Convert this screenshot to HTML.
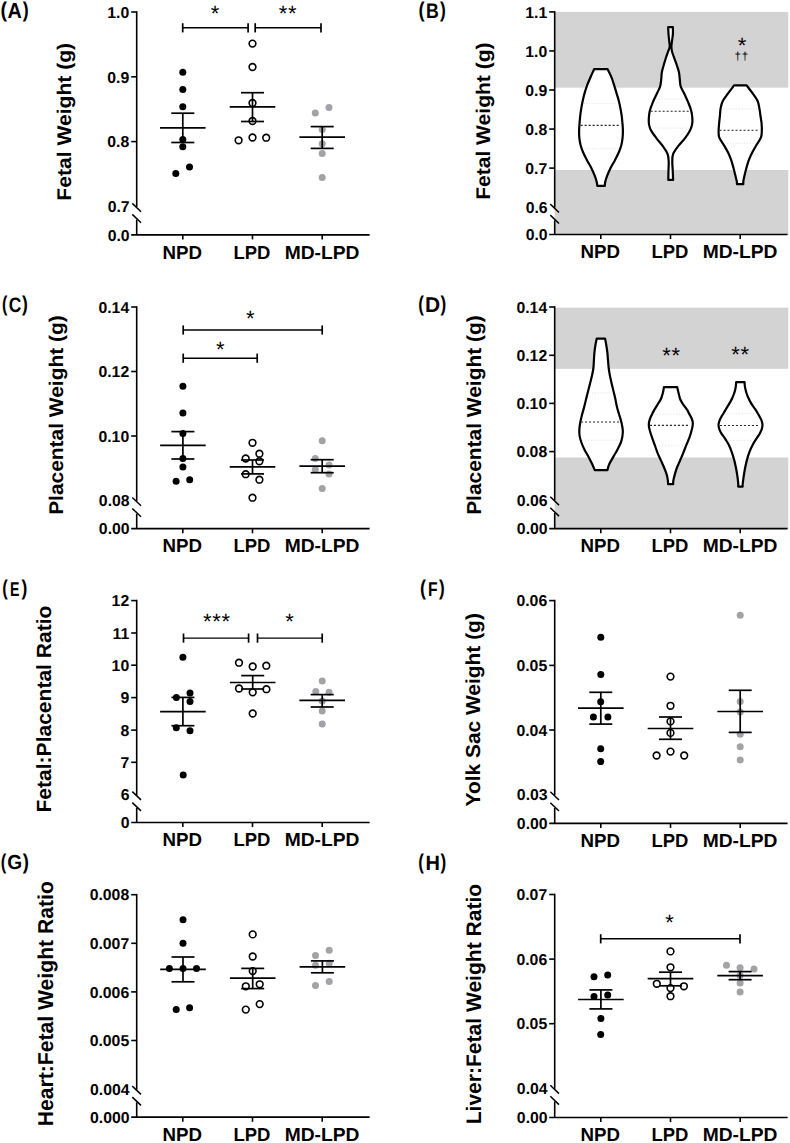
<!DOCTYPE html>
<html><head><meta charset="utf-8"><style>
html,body{margin:0;padding:0;background:#fff;}
svg{display:block;}
text{font-family:"Liberation Sans", sans-serif;fill:#000;}
</style></head><body>
<svg text-rendering="geometricPrecision" width="790" height="1143" viewBox="0 0 790 1143">
<rect width="790" height="1143" fill="#fff"/>
<rect x="554.70" y="11.90" width="233.60" height="75.80" fill="#d3d3d3"/>
<rect x="554.70" y="170.00" width="233.60" height="64.50" fill="#d3d3d3"/>
<rect x="554.70" y="307.70" width="233.60" height="61.10" fill="#d3d3d3"/>
<rect x="554.70" y="457.50" width="233.60" height="71.20" fill="#d3d3d3"/>
<line x1="136.70" y1="11.20" x2="136.70" y2="206.90" stroke="#000" stroke-width="1.6" />
<line x1="136.70" y1="219.60" x2="136.70" y2="234.80" stroke="#000" stroke-width="1.6" />
<line x1="132.30" y1="203.40" x2="141.00" y2="211.70" stroke="#000" stroke-width="1.5" />
<line x1="132.30" y1="214.40" x2="141.00" y2="222.70" stroke="#000" stroke-width="1.5" />
<line x1="131.20" y1="234.80" x2="369.60" y2="234.80" stroke="#000" stroke-width="1.7" />
<line x1="131.20" y1="12.00" x2="136.70" y2="12.00" stroke="#000" stroke-width="1.6" />
<line x1="131.20" y1="76.80" x2="136.70" y2="76.80" stroke="#000" stroke-width="1.6" />
<line x1="131.20" y1="141.60" x2="136.70" y2="141.60" stroke="#000" stroke-width="1.6" />
<text x="129.20" y="17.70" font-size="15.8" font-weight="bold" text-anchor="end" >1.0</text>
<text x="129.20" y="82.50" font-size="15.8" font-weight="bold" text-anchor="end" >0.9</text>
<text x="129.20" y="147.30" font-size="15.8" font-weight="bold" text-anchor="end" >0.8</text>
<line x1="182.80" y1="234.80" x2="182.80" y2="239.40" stroke="#000" stroke-width="1.6" />
<line x1="252.50" y1="234.80" x2="252.50" y2="239.40" stroke="#000" stroke-width="1.6" />
<line x1="322.20" y1="234.80" x2="322.20" y2="239.40" stroke="#000" stroke-width="1.6" />
<text x="129.60" y="212.10" font-size="15.8" font-weight="bold" text-anchor="end" >0.7</text>
<text x="129.60" y="240.50" font-size="15.8" font-weight="bold" text-anchor="end" >0.0</text>
<line x1="182.70" y1="27.80" x2="248.10" y2="27.80" stroke="#000" stroke-width="1.4" />
<line x1="182.70" y1="23.20" x2="182.70" y2="32.40" stroke="#000" stroke-width="1.7" />
<line x1="248.10" y1="23.20" x2="248.10" y2="32.40" stroke="#000" stroke-width="1.7" />
<line x1="255.20" y1="27.80" x2="321.00" y2="27.80" stroke="#000" stroke-width="1.4" />
<line x1="255.20" y1="23.20" x2="255.20" y2="32.40" stroke="#000" stroke-width="1.7" />
<line x1="321.00" y1="23.20" x2="321.00" y2="32.40" stroke="#000" stroke-width="1.7" />
<text x="215.45" y="21.44" font-size="22" font-weight="normal" text-anchor="middle" letter-spacing="0.7">*</text>
<text x="287.95" y="21.44" font-size="22" font-weight="normal" text-anchor="middle" letter-spacing="0.7">**</text>
<circle cx="182.80" cy="72.20" r="3.5" fill="#000"/>
<circle cx="182.80" cy="89.60" r="3.5" fill="#000"/>
<circle cx="182.80" cy="106.80" r="3.5" fill="#000"/>
<circle cx="182.80" cy="139.50" r="3.5" fill="#000"/>
<circle cx="182.80" cy="146.80" r="3.5" fill="#000"/>
<circle cx="175.80" cy="173.40" r="3.5" fill="#000"/>
<circle cx="189.50" cy="167.10" r="3.5" fill="#000"/>
<circle cx="252.50" cy="43.60" r="3.35" fill="#fff" stroke="#000" stroke-width="1.6"/>
<circle cx="252.50" cy="67.00" r="3.35" fill="#fff" stroke="#000" stroke-width="1.6"/>
<circle cx="252.50" cy="103.00" r="3.35" fill="#fff" stroke="#000" stroke-width="1.6"/>
<circle cx="252.50" cy="121.00" r="3.35" fill="#fff" stroke="#000" stroke-width="1.6"/>
<circle cx="238.60" cy="140.30" r="3.35" fill="#fff" stroke="#000" stroke-width="1.6"/>
<circle cx="252.50" cy="137.50" r="3.35" fill="#fff" stroke="#000" stroke-width="1.6"/>
<circle cx="266.20" cy="137.70" r="3.35" fill="#fff" stroke="#000" stroke-width="1.6"/>
<circle cx="315.30" cy="112.90" r="3.5" fill="#a2a2a7"/>
<circle cx="329.00" cy="107.60" r="3.5" fill="#a2a2a7"/>
<circle cx="322.20" cy="129.60" r="3.5" fill="#a2a2a7"/>
<circle cx="322.20" cy="143.80" r="3.5" fill="#a2a2a7"/>
<circle cx="322.20" cy="153.40" r="3.5" fill="#a2a2a7"/>
<circle cx="322.20" cy="177.50" r="3.5" fill="#a2a2a7"/>
<line x1="160.00" y1="127.80" x2="205.60" y2="127.80" stroke="#000" stroke-width="1.7" />
<line x1="171.30" y1="113.20" x2="194.30" y2="113.20" stroke="#000" stroke-width="1.7" />
<line x1="171.30" y1="142.50" x2="194.30" y2="142.50" stroke="#000" stroke-width="1.7" />
<line x1="182.80" y1="113.20" x2="182.80" y2="142.50" stroke="#000" stroke-width="1.7" />
<line x1="229.70" y1="106.80" x2="275.30" y2="106.80" stroke="#000" stroke-width="1.7" />
<line x1="241.00" y1="92.70" x2="264.00" y2="92.70" stroke="#000" stroke-width="1.7" />
<line x1="241.00" y1="121.50" x2="264.00" y2="121.50" stroke="#000" stroke-width="1.7" />
<line x1="252.50" y1="92.70" x2="252.50" y2="121.50" stroke="#000" stroke-width="1.7" />
<line x1="299.40" y1="137.20" x2="345.00" y2="137.20" stroke="#000" stroke-width="1.7" />
<line x1="310.70" y1="126.60" x2="333.70" y2="126.60" stroke="#000" stroke-width="1.7" />
<line x1="310.70" y1="148.40" x2="333.70" y2="148.40" stroke="#000" stroke-width="1.7" />
<line x1="322.20" y1="126.60" x2="322.20" y2="148.40" stroke="#000" stroke-width="1.7" />
<line x1="554.70" y1="11.10" x2="554.70" y2="207.65" stroke="#000" stroke-width="1.6" />
<line x1="554.70" y1="220.35" x2="554.70" y2="234.50" stroke="#000" stroke-width="1.6" />
<line x1="550.30" y1="204.15" x2="559.00" y2="212.45" stroke="#000" stroke-width="1.5" />
<line x1="550.30" y1="215.15" x2="559.00" y2="223.45" stroke="#000" stroke-width="1.5" />
<line x1="549.20" y1="234.50" x2="787.60" y2="234.50" stroke="#000" stroke-width="1.7" />
<line x1="549.20" y1="11.90" x2="554.70" y2="11.90" stroke="#000" stroke-width="1.6" />
<line x1="549.20" y1="50.95" x2="554.70" y2="50.95" stroke="#000" stroke-width="1.6" />
<line x1="549.20" y1="90.00" x2="554.70" y2="90.00" stroke="#000" stroke-width="1.6" />
<line x1="549.20" y1="129.05" x2="554.70" y2="129.05" stroke="#000" stroke-width="1.6" />
<line x1="549.20" y1="168.10" x2="554.70" y2="168.10" stroke="#000" stroke-width="1.6" />
<text x="547.20" y="17.60" font-size="15.8" font-weight="bold" text-anchor="end" >1.1</text>
<text x="547.20" y="56.65" font-size="15.8" font-weight="bold" text-anchor="end" >1.0</text>
<text x="547.20" y="95.70" font-size="15.8" font-weight="bold" text-anchor="end" >0.9</text>
<text x="547.20" y="134.75" font-size="15.8" font-weight="bold" text-anchor="end" >0.8</text>
<text x="547.20" y="173.80" font-size="15.8" font-weight="bold" text-anchor="end" >0.7</text>
<line x1="600.80" y1="234.50" x2="600.80" y2="239.10" stroke="#000" stroke-width="1.6" />
<line x1="670.50" y1="234.50" x2="670.50" y2="239.10" stroke="#000" stroke-width="1.6" />
<line x1="740.20" y1="234.50" x2="740.20" y2="239.10" stroke="#000" stroke-width="1.6" />
<text x="547.60" y="212.85" font-size="15.8" font-weight="bold" text-anchor="end" >0.6</text>
<text x="547.60" y="240.20" font-size="15.8" font-weight="bold" text-anchor="end" >0.0</text>
<path d="M594.10,69.20 C593.50,70.53 591.63,74.60 590.50,77.20 C589.37,79.80 588.25,82.27 587.30,84.80 C586.35,87.33 585.53,89.87 584.80,92.40 C584.07,94.93 583.47,97.47 582.90,100.00 C582.33,102.53 581.83,105.07 581.40,107.60 C580.97,110.13 580.60,112.68 580.30,115.20 C580.00,117.72 579.80,120.18 579.60,122.70 C579.40,125.22 579.15,127.82 579.10,130.30 C579.05,132.78 579.05,135.12 579.30,137.60 C579.55,140.08 579.93,142.67 580.60,145.20 C581.27,147.73 582.22,150.27 583.30,152.80 C584.38,155.33 585.77,157.87 587.10,160.40 C588.43,162.93 590.03,165.47 591.30,168.00 C592.57,170.53 593.82,173.33 594.70,175.60 C595.58,177.87 596.17,179.90 596.60,181.60 C597.03,183.30 597.18,185.10 597.30,185.80 L604.80,185.80 C604.88,185.10 604.90,183.30 605.30,181.60 C605.70,179.90 606.32,177.87 607.20,175.60 C608.08,173.33 609.33,170.53 610.60,168.00 C611.87,165.47 613.47,162.93 614.80,160.40 C616.13,157.87 617.52,155.33 618.60,152.80 C619.68,150.27 620.63,147.73 621.30,145.20 C621.97,142.67 622.33,140.08 622.60,137.60 C622.87,135.12 622.93,132.78 622.90,130.30 C622.87,127.82 622.62,125.22 622.40,122.70 C622.18,120.18 621.95,117.72 621.60,115.20 C621.25,112.68 620.80,110.13 620.30,107.60 C619.80,105.07 619.27,102.53 618.60,100.00 C617.93,97.47 617.07,94.93 616.30,92.40 C615.53,89.87 614.82,87.33 614.00,84.80 C613.18,82.27 612.47,79.80 611.40,77.20 C610.33,74.60 608.23,70.53 607.60,69.20Z" fill="#fff" stroke="#000" stroke-width="2.2" stroke-linejoin="round"/>
<line x1="580.60" y1="125.40" x2="620.10" y2="125.40" stroke="#2a2a2a" stroke-width="1.1" stroke-dasharray="2.1 1.9"/>
<line x1="583.83" y1="103.40" x2="617.76" y2="103.40" stroke="#e4e4e4" stroke-width="1.0" stroke-dasharray="1.2 1.6"/>
<line x1="583.41" y1="148.60" x2="618.49" y2="148.60" stroke="#e4e4e4" stroke-width="1.0" stroke-dasharray="1.2 1.6"/>
<path d="M668.20,27.20 C668.25,28.33 668.33,31.70 668.50,34.00 C668.67,36.30 669.00,38.90 669.20,41.00 C669.40,43.10 669.88,44.85 669.70,46.60 C669.52,48.35 668.77,49.52 668.10,51.50 C667.43,53.48 666.45,56.17 665.70,58.50 C664.95,60.83 664.25,63.17 663.60,65.50 C662.95,67.83 662.20,70.17 661.80,72.50 C661.40,74.83 661.48,77.17 661.20,79.50 C660.92,81.83 660.82,84.17 660.10,86.50 C659.38,88.83 658.15,90.77 656.90,93.50 C655.65,96.23 653.78,100.03 652.60,102.90 C651.42,105.77 650.43,108.08 649.80,110.70 C649.17,113.32 648.92,116.23 648.80,118.60 C648.68,120.97 648.73,122.93 649.10,124.90 C649.47,126.87 649.77,128.17 651.00,130.40 C652.23,132.63 654.53,135.67 656.50,138.30 C658.47,140.93 660.95,143.57 662.80,146.20 C664.65,148.83 666.62,151.48 667.60,154.10 C668.58,156.72 668.55,159.28 668.70,161.90 C668.85,164.52 668.57,166.80 668.50,169.80 C668.43,172.80 668.33,178.22 668.30,179.90 L673.10,179.90 C673.03,178.22 672.83,172.80 672.70,169.80 C672.57,166.80 672.23,164.52 672.30,161.90 C672.37,159.28 672.12,156.72 673.10,154.10 C674.08,151.48 676.23,148.83 678.20,146.20 C680.17,143.57 682.93,140.93 684.90,138.30 C686.87,135.67 688.82,132.63 690.00,130.40 C691.18,128.17 691.60,126.87 692.00,124.90 C692.40,122.93 692.53,120.97 692.40,118.60 C692.27,116.23 691.87,113.32 691.20,110.70 C690.53,108.08 689.57,105.77 688.40,102.90 C687.23,100.03 685.48,96.23 684.20,93.50 C682.92,90.77 681.43,88.83 680.70,86.50 C679.97,84.17 680.08,81.83 679.80,79.50 C679.52,77.17 679.48,74.83 679.00,72.50 C678.52,70.17 677.67,67.83 676.90,65.50 C676.13,63.17 675.22,60.83 674.40,58.50 C673.58,56.17 672.50,53.48 672.00,51.50 C671.50,49.52 671.40,48.35 671.40,46.60 C671.40,44.85 671.75,43.10 672.00,41.00 C672.25,38.90 672.75,36.30 672.90,34.00 C673.05,31.70 672.90,28.33 672.90,27.20Z" fill="#fff" stroke="#000" stroke-width="2.2" stroke-linejoin="round"/>
<line x1="650.60" y1="111.30" x2="690.40" y2="111.30" stroke="#2a2a2a" stroke-width="1.1" stroke-dasharray="2.1 1.9"/>
<line x1="656.03" y1="98.90" x2="685.01" y2="98.90" stroke="#e4e4e4" stroke-width="1.0" stroke-dasharray="1.2 1.6"/>
<line x1="651.81" y1="128.10" x2="689.24" y2="128.10" stroke="#e4e4e4" stroke-width="1.0" stroke-dasharray="1.2 1.6"/>
<path d="M734.10,85.40 C733.12,86.70 730.07,90.63 728.20,93.20 C726.33,95.77 724.17,98.27 722.90,100.80 C721.63,103.33 721.10,105.87 720.60,108.40 C720.10,110.93 720.15,113.47 719.90,116.00 C719.65,118.53 719.32,121.07 719.10,123.60 C718.88,126.13 718.57,128.87 718.60,131.20 C718.63,133.53 718.40,135.27 719.30,137.60 C720.20,139.93 722.52,142.67 724.00,145.20 C725.48,147.73 726.98,150.27 728.20,152.80 C729.42,155.33 730.42,157.87 731.30,160.40 C732.18,162.93 732.82,165.47 733.50,168.00 C734.18,170.53 734.87,173.45 735.40,175.60 C735.93,177.75 736.43,179.48 736.70,180.90 C736.97,182.32 736.95,183.57 737.00,184.10 L743.30,184.10 C743.32,183.57 743.20,182.32 743.40,180.90 C743.60,179.48 744.00,177.75 744.50,175.60 C745.00,173.45 745.70,170.53 746.40,168.00 C747.10,165.47 747.75,162.93 748.70,160.40 C749.65,157.87 750.83,155.33 752.10,152.80 C753.37,150.27 754.83,147.73 756.30,145.20 C757.77,142.67 759.98,139.93 760.90,137.60 C761.82,135.27 761.68,133.53 761.80,131.20 C761.92,128.87 761.82,126.13 761.60,123.60 C761.38,121.07 760.87,118.53 760.50,116.00 C760.13,113.47 759.90,110.93 759.40,108.40 C758.90,105.87 758.65,103.33 757.50,100.80 C756.35,98.27 754.32,95.77 752.50,93.20 C750.68,90.63 747.58,86.70 746.60,85.40Z" fill="#fff" stroke="#000" stroke-width="2.2" stroke-linejoin="round"/>
<line x1="719.50" y1="130.20" x2="759.40" y2="130.20" stroke="#2a2a2a" stroke-width="1.1" stroke-dasharray="2.1 1.9"/>
<line x1="722.14" y1="109.10" x2="757.90" y2="109.10" stroke="#e4e4e4" stroke-width="1.0" stroke-dasharray="1.2 1.6"/>
<line x1="724.43" y1="143.30" x2="755.85" y2="143.30" stroke="#e4e4e4" stroke-width="1.0" stroke-dasharray="1.2 1.6"/>
<text x="742.45" y="52.64" font-size="22" font-weight="normal" text-anchor="middle" letter-spacing="0.7">*</text>
<text x="741.7" y="59.6" font-size="11.5" text-anchor="middle" letter-spacing="0.8">††</text>
<line x1="136.70" y1="306.20" x2="136.70" y2="501.00" stroke="#000" stroke-width="1.6" />
<line x1="136.70" y1="513.70" x2="136.70" y2="528.70" stroke="#000" stroke-width="1.6" />
<line x1="132.30" y1="497.50" x2="141.00" y2="505.80" stroke="#000" stroke-width="1.5" />
<line x1="132.30" y1="508.50" x2="141.00" y2="516.80" stroke="#000" stroke-width="1.5" />
<line x1="131.20" y1="528.70" x2="369.60" y2="528.70" stroke="#000" stroke-width="1.7" />
<line x1="131.20" y1="307.00" x2="136.70" y2="307.00" stroke="#000" stroke-width="1.6" />
<line x1="131.20" y1="371.50" x2="136.70" y2="371.50" stroke="#000" stroke-width="1.6" />
<line x1="131.20" y1="436.00" x2="136.70" y2="436.00" stroke="#000" stroke-width="1.6" />
<text x="129.20" y="312.70" font-size="15.8" font-weight="bold" text-anchor="end" >0.14</text>
<text x="129.20" y="377.20" font-size="15.8" font-weight="bold" text-anchor="end" >0.12</text>
<text x="129.20" y="441.70" font-size="15.8" font-weight="bold" text-anchor="end" >0.10</text>
<line x1="182.80" y1="528.70" x2="182.80" y2="533.30" stroke="#000" stroke-width="1.6" />
<line x1="252.50" y1="528.70" x2="252.50" y2="533.30" stroke="#000" stroke-width="1.6" />
<line x1="322.20" y1="528.70" x2="322.20" y2="533.30" stroke="#000" stroke-width="1.6" />
<text x="129.60" y="506.20" font-size="15.8" font-weight="bold" text-anchor="end" >0.08</text>
<text x="129.60" y="534.40" font-size="15.8" font-weight="bold" text-anchor="end" >0.00</text>
<line x1="183.20" y1="330.00" x2="322.20" y2="330.00" stroke="#000" stroke-width="1.4" />
<line x1="183.20" y1="325.40" x2="183.20" y2="334.60" stroke="#000" stroke-width="1.7" />
<line x1="322.20" y1="325.40" x2="322.20" y2="334.60" stroke="#000" stroke-width="1.7" />
<line x1="183.20" y1="358.20" x2="257.20" y2="358.20" stroke="#000" stroke-width="1.4" />
<line x1="183.20" y1="353.60" x2="183.20" y2="362.80" stroke="#000" stroke-width="1.7" />
<line x1="257.20" y1="353.60" x2="257.20" y2="362.80" stroke="#000" stroke-width="1.7" />
<text x="250.65" y="326.34" font-size="22" font-weight="normal" text-anchor="middle" letter-spacing="0.7">*</text>
<text x="220.75" y="356.54" font-size="22" font-weight="normal" text-anchor="middle" letter-spacing="0.7">*</text>
<circle cx="182.90" cy="386.20" r="3.5" fill="#000"/>
<circle cx="182.90" cy="413.00" r="3.5" fill="#000"/>
<circle cx="182.90" cy="433.40" r="3.5" fill="#000"/>
<circle cx="182.90" cy="458.50" r="3.5" fill="#000"/>
<circle cx="182.90" cy="467.10" r="3.5" fill="#000"/>
<circle cx="176.10" cy="481.30" r="3.5" fill="#000"/>
<circle cx="189.70" cy="479.70" r="3.5" fill="#000"/>
<circle cx="252.50" cy="442.80" r="3.35" fill="#fff" stroke="#000" stroke-width="1.6"/>
<circle cx="245.70" cy="458.50" r="3.35" fill="#fff" stroke="#000" stroke-width="1.6"/>
<circle cx="259.40" cy="453.70" r="3.35" fill="#fff" stroke="#000" stroke-width="1.6"/>
<circle cx="259.40" cy="461.30" r="3.35" fill="#fff" stroke="#000" stroke-width="1.6"/>
<circle cx="245.70" cy="474.20" r="3.35" fill="#fff" stroke="#000" stroke-width="1.6"/>
<circle cx="259.40" cy="479.70" r="3.35" fill="#fff" stroke="#000" stroke-width="1.6"/>
<circle cx="252.50" cy="497.70" r="3.35" fill="#fff" stroke="#000" stroke-width="1.6"/>
<circle cx="322.20" cy="440.80" r="3.5" fill="#a2a2a7"/>
<circle cx="315.30" cy="458.50" r="3.5" fill="#a2a2a7"/>
<circle cx="329.00" cy="465.10" r="3.5" fill="#a2a2a7"/>
<circle cx="315.30" cy="469.40" r="3.5" fill="#a2a2a7"/>
<circle cx="329.00" cy="473.90" r="3.5" fill="#a2a2a7"/>
<circle cx="322.20" cy="488.40" r="3.5" fill="#a2a2a7"/>
<line x1="160.10" y1="445.30" x2="205.70" y2="445.30" stroke="#000" stroke-width="1.7" />
<line x1="171.40" y1="431.60" x2="194.40" y2="431.60" stroke="#000" stroke-width="1.7" />
<line x1="171.40" y1="459.00" x2="194.40" y2="459.00" stroke="#000" stroke-width="1.7" />
<line x1="182.90" y1="431.60" x2="182.90" y2="459.00" stroke="#000" stroke-width="1.7" />
<line x1="229.70" y1="466.80" x2="275.30" y2="466.80" stroke="#000" stroke-width="1.7" />
<line x1="241.00" y1="460.00" x2="264.00" y2="460.00" stroke="#000" stroke-width="1.7" />
<line x1="241.00" y1="473.90" x2="264.00" y2="473.90" stroke="#000" stroke-width="1.7" />
<line x1="252.50" y1="460.00" x2="252.50" y2="473.90" stroke="#000" stroke-width="1.7" />
<line x1="299.40" y1="466.10" x2="345.00" y2="466.10" stroke="#000" stroke-width="1.7" />
<line x1="310.70" y1="459.70" x2="333.70" y2="459.70" stroke="#000" stroke-width="1.7" />
<line x1="310.70" y1="472.70" x2="333.70" y2="472.70" stroke="#000" stroke-width="1.7" />
<line x1="322.20" y1="459.70" x2="322.20" y2="472.70" stroke="#000" stroke-width="1.7" />
<line x1="554.70" y1="306.20" x2="554.70" y2="500.30" stroke="#000" stroke-width="1.6" />
<line x1="554.70" y1="513.00" x2="554.70" y2="528.70" stroke="#000" stroke-width="1.6" />
<line x1="550.30" y1="496.80" x2="559.00" y2="505.10" stroke="#000" stroke-width="1.5" />
<line x1="550.30" y1="507.80" x2="559.00" y2="516.10" stroke="#000" stroke-width="1.5" />
<line x1="549.20" y1="528.70" x2="787.60" y2="528.70" stroke="#000" stroke-width="1.7" />
<line x1="549.20" y1="307.00" x2="554.70" y2="307.00" stroke="#000" stroke-width="1.6" />
<line x1="549.20" y1="355.30" x2="554.70" y2="355.30" stroke="#000" stroke-width="1.6" />
<line x1="549.20" y1="403.40" x2="554.70" y2="403.40" stroke="#000" stroke-width="1.6" />
<line x1="549.20" y1="451.60" x2="554.70" y2="451.60" stroke="#000" stroke-width="1.6" />
<text x="547.20" y="312.70" font-size="15.8" font-weight="bold" text-anchor="end" >0.14</text>
<text x="547.20" y="361.00" font-size="15.8" font-weight="bold" text-anchor="end" >0.12</text>
<text x="547.20" y="409.10" font-size="15.8" font-weight="bold" text-anchor="end" >0.10</text>
<text x="547.20" y="457.30" font-size="15.8" font-weight="bold" text-anchor="end" >0.08</text>
<line x1="600.80" y1="528.70" x2="600.80" y2="533.30" stroke="#000" stroke-width="1.6" />
<line x1="670.50" y1="528.70" x2="670.50" y2="533.30" stroke="#000" stroke-width="1.6" />
<line x1="740.20" y1="528.70" x2="740.20" y2="533.30" stroke="#000" stroke-width="1.6" />
<text x="547.60" y="505.50" font-size="15.8" font-weight="bold" text-anchor="end" >0.06</text>
<text x="547.60" y="534.40" font-size="15.8" font-weight="bold" text-anchor="end" >0.00</text>
<path d="M596.70,338.70 C596.48,339.78 595.78,342.85 595.40,345.20 C595.02,347.55 594.65,350.27 594.40,352.80 C594.15,355.33 594.07,357.87 593.90,360.40 C593.73,362.93 593.72,365.47 593.40,368.00 C593.08,370.53 592.55,373.07 592.00,375.60 C591.45,378.13 590.73,380.68 590.10,383.20 C589.47,385.72 588.83,388.18 588.20,390.70 C587.57,393.22 587.00,395.48 586.30,398.30 C585.60,401.12 584.73,404.78 584.00,407.60 C583.27,410.42 582.53,412.67 581.90,415.20 C581.27,417.73 580.63,420.27 580.20,422.80 C579.77,425.33 579.38,428.13 579.30,430.40 C579.22,432.67 579.35,434.38 579.70,436.40 C580.05,438.42 580.62,440.33 581.40,442.50 C582.18,444.67 583.20,447.00 584.40,449.40 C585.60,451.80 587.27,454.38 588.60,456.90 C589.93,459.42 591.38,462.28 592.40,464.50 C593.42,466.72 594.32,469.25 594.70,470.20 L607.40,470.20 C607.68,469.25 608.12,466.72 609.10,464.50 C610.08,462.28 611.90,459.42 613.30,456.90 C614.70,454.38 616.23,451.80 617.50,449.40 C618.77,447.00 620.08,444.67 620.90,442.50 C621.72,440.33 622.08,438.42 622.40,436.40 C622.72,434.38 622.95,432.67 622.80,430.40 C622.65,428.13 622.07,425.33 621.50,422.80 C620.93,420.27 620.13,417.73 619.40,415.20 C618.67,412.67 617.80,410.42 617.10,407.60 C616.40,404.78 615.82,401.12 615.20,398.30 C614.58,395.48 614.00,393.22 613.40,390.70 C612.80,388.18 612.18,385.72 611.60,383.20 C611.02,380.68 610.38,378.13 609.90,375.60 C609.42,373.07 609.02,370.53 608.70,368.00 C608.38,365.47 608.22,362.93 608.00,360.40 C607.78,357.87 607.68,355.33 607.40,352.80 C607.12,350.27 606.68,347.55 606.30,345.20 C605.92,342.85 605.30,339.78 605.10,338.70Z" fill="#fff" stroke="#000" stroke-width="2.2" stroke-linejoin="round"/>
<line x1="581.00" y1="422.00" x2="620.10" y2="422.00" stroke="#2a2a2a" stroke-width="1.1" stroke-dasharray="2.1 1.9"/>
<line x1="589.23" y1="393.00" x2="612.34" y2="393.00" stroke="#e4e4e4" stroke-width="1.0" stroke-dasharray="1.2 1.6"/>
<line x1="582.36" y1="440.20" x2="619.87" y2="440.20" stroke="#e4e4e4" stroke-width="1.0" stroke-dasharray="1.2 1.6"/>
<path d="M663.90,387.20 C663.78,387.90 663.48,390.07 663.20,391.40 C662.92,392.73 662.58,393.93 662.20,395.20 C661.82,396.47 661.50,397.73 660.90,399.00 C660.30,400.27 659.37,401.53 658.60,402.80 C657.83,404.07 657.07,405.33 656.30,406.60 C655.53,407.87 654.70,409.13 654.00,410.40 C653.30,411.67 652.72,412.93 652.10,414.20 C651.48,415.47 650.82,416.62 650.30,418.00 C649.78,419.38 649.22,420.98 649.00,422.50 C648.78,424.02 648.73,425.32 649.00,427.10 C649.27,428.88 650.08,431.45 650.60,433.20 C651.12,434.95 651.40,435.60 652.10,437.60 C652.80,439.60 653.90,442.67 654.80,445.20 C655.70,447.73 656.48,450.27 657.50,452.80 C658.52,455.33 659.77,457.87 660.90,460.40 C662.03,462.93 663.28,465.47 664.30,468.00 C665.32,470.53 666.40,473.45 667.00,475.60 C667.60,477.75 667.72,479.48 667.90,480.90 C668.08,482.32 668.07,483.57 668.10,484.10 L673.20,484.10 C673.22,483.57 673.08,482.32 673.30,480.90 C673.52,479.48 673.92,477.75 674.50,475.60 C675.08,473.45 675.87,470.53 676.80,468.00 C677.73,465.47 679.02,462.93 680.10,460.40 C681.18,457.87 682.27,455.33 683.30,452.80 C684.33,450.27 685.28,447.73 686.30,445.20 C687.32,442.67 688.65,439.60 689.40,437.60 C690.15,435.60 690.30,434.95 690.80,433.20 C691.30,431.45 692.07,428.88 692.40,427.10 C692.73,425.32 692.95,424.02 692.80,422.50 C692.65,420.98 692.07,419.38 691.50,418.00 C690.93,416.62 690.07,415.47 689.40,414.20 C688.73,412.93 688.27,411.67 687.50,410.40 C686.73,409.13 685.70,407.87 684.80,406.60 C683.90,405.33 682.88,404.07 682.10,402.80 C681.32,401.53 680.60,400.27 680.10,399.00 C679.60,397.73 679.42,396.47 679.10,395.20 C678.78,393.93 678.52,392.73 678.20,391.40 C677.88,390.07 677.37,387.90 677.20,387.20Z" fill="#fff" stroke="#000" stroke-width="2.2" stroke-linejoin="round"/>
<line x1="649.90" y1="425.40" x2="689.70" y2="425.40" stroke="#2a2a2a" stroke-width="1.1" stroke-dasharray="2.1 1.9"/>
<line x1="653.70" y1="414.20" x2="687.80" y2="414.20" stroke="#e4e4e4" stroke-width="1.0" stroke-dasharray="1.2 1.6"/>
<line x1="656.65" y1="445.90" x2="684.42" y2="445.90" stroke="#e4e4e4" stroke-width="1.0" stroke-dasharray="1.2 1.6"/>
<path d="M736.20,382.20 C736.13,382.90 735.98,385.07 735.80,386.40 C735.62,387.73 735.42,388.93 735.10,390.20 C734.78,391.47 734.35,392.73 733.90,394.00 C733.45,395.27 732.97,396.53 732.40,397.80 C731.83,399.07 731.20,400.33 730.50,401.60 C729.80,402.87 728.97,404.13 728.20,405.40 C727.43,406.67 726.65,407.93 725.90,409.20 C725.15,410.47 724.45,411.73 723.70,413.00 C722.95,414.27 722.10,415.53 721.40,416.80 C720.70,418.07 719.98,419.22 719.50,420.60 C719.02,421.98 718.50,423.58 718.50,425.10 C718.50,426.62 718.95,428.18 719.50,429.70 C720.05,431.22 720.98,432.88 721.80,434.20 C722.62,435.52 723.20,435.77 724.40,437.60 C725.60,439.43 727.73,442.67 729.00,445.20 C730.27,447.73 731.12,450.27 732.00,452.80 C732.88,455.33 733.63,457.87 734.30,460.40 C734.97,462.93 735.50,465.47 736.00,468.00 C736.50,470.53 736.93,473.07 737.30,475.60 C737.67,478.13 738.05,481.37 738.20,483.20 C738.35,485.03 738.20,486.03 738.20,486.60 L742.60,486.60 C742.63,486.03 742.60,485.03 742.80,483.20 C743.00,481.37 743.42,478.13 743.80,475.60 C744.18,473.07 744.60,470.53 745.10,468.00 C745.60,465.47 746.13,462.93 746.80,460.40 C747.47,457.87 748.15,455.33 749.10,452.80 C750.05,450.27 751.17,447.73 752.50,445.20 C753.83,442.67 755.95,439.43 757.10,437.60 C758.25,435.77 758.65,435.52 759.40,434.20 C760.15,432.88 761.08,431.22 761.60,429.70 C762.12,428.18 762.50,426.62 762.50,425.10 C762.50,423.58 762.07,421.98 761.60,420.60 C761.13,419.22 760.38,418.07 759.70,416.80 C759.02,415.53 758.25,414.27 757.50,413.00 C756.75,411.73 756.03,410.47 755.20,409.20 C754.37,407.93 753.33,406.67 752.50,405.40 C751.67,404.13 750.90,402.87 750.20,401.60 C749.50,400.33 748.87,399.07 748.30,397.80 C747.73,396.53 747.23,395.27 746.80,394.00 C746.37,392.73 746.02,391.47 745.70,390.20 C745.38,388.93 745.10,387.73 744.90,386.40 C744.70,385.07 744.57,382.90 744.50,382.20Z" fill="#fff" stroke="#000" stroke-width="2.2" stroke-linejoin="round"/>
<line x1="719.90" y1="425.50" x2="759.40" y2="425.50" stroke="#2a2a2a" stroke-width="1.1" stroke-dasharray="2.1 1.9"/>
<line x1="724.88" y1="413.70" x2="756.31" y2="413.70" stroke="#e4e4e4" stroke-width="1.0" stroke-dasharray="1.2 1.6"/>
<line x1="727.63" y1="440.30" x2="753.87" y2="440.30" stroke="#e4e4e4" stroke-width="1.0" stroke-dasharray="1.2 1.6"/>
<text x="671.45" y="362.64" font-size="22" font-weight="normal" text-anchor="middle" letter-spacing="0.7">**</text>
<text x="740.55" y="362.44" font-size="22" font-weight="normal" text-anchor="middle" letter-spacing="0.7">**</text>
<line x1="136.70" y1="599.80" x2="136.70" y2="795.10" stroke="#000" stroke-width="1.6" />
<line x1="136.70" y1="807.80" x2="136.70" y2="822.50" stroke="#000" stroke-width="1.6" />
<line x1="132.30" y1="791.60" x2="141.00" y2="799.90" stroke="#000" stroke-width="1.5" />
<line x1="132.30" y1="802.60" x2="141.00" y2="810.90" stroke="#000" stroke-width="1.5" />
<line x1="131.20" y1="822.50" x2="369.60" y2="822.50" stroke="#000" stroke-width="1.7" />
<line x1="131.20" y1="600.60" x2="136.70" y2="600.60" stroke="#000" stroke-width="1.6" />
<line x1="131.20" y1="633.00" x2="136.70" y2="633.00" stroke="#000" stroke-width="1.6" />
<line x1="131.20" y1="665.20" x2="136.70" y2="665.20" stroke="#000" stroke-width="1.6" />
<line x1="131.20" y1="697.60" x2="136.70" y2="697.60" stroke="#000" stroke-width="1.6" />
<line x1="131.20" y1="730.10" x2="136.70" y2="730.10" stroke="#000" stroke-width="1.6" />
<line x1="131.20" y1="762.30" x2="136.70" y2="762.30" stroke="#000" stroke-width="1.6" />
<text x="129.20" y="606.30" font-size="15.8" font-weight="bold" text-anchor="end" >12</text>
<text x="129.20" y="638.70" font-size="15.8" font-weight="bold" text-anchor="end" >11</text>
<text x="129.20" y="670.90" font-size="15.8" font-weight="bold" text-anchor="end" >10</text>
<text x="129.20" y="703.30" font-size="15.8" font-weight="bold" text-anchor="end" >9</text>
<text x="129.20" y="735.80" font-size="15.8" font-weight="bold" text-anchor="end" >8</text>
<text x="129.20" y="768.00" font-size="15.8" font-weight="bold" text-anchor="end" >7</text>
<line x1="182.80" y1="822.50" x2="182.80" y2="827.10" stroke="#000" stroke-width="1.6" />
<line x1="252.50" y1="822.50" x2="252.50" y2="827.10" stroke="#000" stroke-width="1.6" />
<line x1="322.20" y1="822.50" x2="322.20" y2="827.10" stroke="#000" stroke-width="1.6" />
<text x="129.60" y="800.30" font-size="15.8" font-weight="bold" text-anchor="end" >6</text>
<text x="129.60" y="828.20" font-size="15.8" font-weight="bold" text-anchor="end" >0</text>
<line x1="183.50" y1="638.10" x2="248.60" y2="638.10" stroke="#000" stroke-width="1.4" />
<line x1="183.50" y1="633.50" x2="183.50" y2="642.70" stroke="#000" stroke-width="1.7" />
<line x1="248.60" y1="633.50" x2="248.60" y2="642.70" stroke="#000" stroke-width="1.7" />
<line x1="257.50" y1="638.10" x2="322.20" y2="638.10" stroke="#000" stroke-width="1.4" />
<line x1="257.50" y1="633.50" x2="257.50" y2="642.70" stroke="#000" stroke-width="1.7" />
<line x1="322.20" y1="633.50" x2="322.20" y2="642.70" stroke="#000" stroke-width="1.7" />
<text x="216.85" y="628.74" font-size="22" font-weight="normal" text-anchor="middle" letter-spacing="0.7">***</text>
<text x="289.85" y="628.74" font-size="22" font-weight="normal" text-anchor="middle" letter-spacing="0.7">*</text>
<circle cx="182.90" cy="657.30" r="3.5" fill="#000"/>
<circle cx="176.40" cy="697.50" r="3.5" fill="#000"/>
<circle cx="190.00" cy="692.90" r="3.5" fill="#000"/>
<circle cx="190.00" cy="701.50" r="3.5" fill="#000"/>
<circle cx="176.30" cy="727.70" r="3.5" fill="#000"/>
<circle cx="190.00" cy="730.80" r="3.5" fill="#000"/>
<circle cx="183.20" cy="775.10" r="3.5" fill="#000"/>
<circle cx="239.00" cy="662.70" r="3.35" fill="#fff" stroke="#000" stroke-width="1.6"/>
<circle cx="252.70" cy="666.50" r="3.35" fill="#fff" stroke="#000" stroke-width="1.6"/>
<circle cx="266.30" cy="665.70" r="3.35" fill="#fff" stroke="#000" stroke-width="1.6"/>
<circle cx="239.00" cy="688.50" r="3.35" fill="#fff" stroke="#000" stroke-width="1.6"/>
<circle cx="252.70" cy="692.30" r="3.35" fill="#fff" stroke="#000" stroke-width="1.6"/>
<circle cx="266.40" cy="689.20" r="3.35" fill="#fff" stroke="#000" stroke-width="1.6"/>
<circle cx="252.70" cy="713.50" r="3.35" fill="#fff" stroke="#000" stroke-width="1.6"/>
<circle cx="322.20" cy="680.90" r="3.5" fill="#a2a2a7"/>
<circle cx="315.80" cy="691.50" r="3.5" fill="#a2a2a7"/>
<circle cx="329.00" cy="692.30" r="3.5" fill="#a2a2a7"/>
<circle cx="322.20" cy="701.10" r="3.5" fill="#a2a2a7"/>
<circle cx="322.20" cy="711.00" r="3.5" fill="#a2a2a7"/>
<circle cx="322.20" cy="723.90" r="3.5" fill="#a2a2a7"/>
<line x1="160.10" y1="711.60" x2="205.70" y2="711.60" stroke="#000" stroke-width="1.7" />
<line x1="171.40" y1="697.40" x2="194.40" y2="697.40" stroke="#000" stroke-width="1.7" />
<line x1="171.40" y1="725.70" x2="194.40" y2="725.70" stroke="#000" stroke-width="1.7" />
<line x1="182.90" y1="697.40" x2="182.90" y2="725.70" stroke="#000" stroke-width="1.7" />
<line x1="229.90" y1="682.50" x2="275.50" y2="682.50" stroke="#000" stroke-width="1.7" />
<line x1="241.20" y1="675.60" x2="264.20" y2="675.60" stroke="#000" stroke-width="1.7" />
<line x1="241.20" y1="689.00" x2="264.20" y2="689.00" stroke="#000" stroke-width="1.7" />
<line x1="252.70" y1="675.60" x2="252.70" y2="689.00" stroke="#000" stroke-width="1.7" />
<line x1="299.40" y1="700.40" x2="345.00" y2="700.40" stroke="#000" stroke-width="1.7" />
<line x1="310.70" y1="694.60" x2="333.70" y2="694.60" stroke="#000" stroke-width="1.7" />
<line x1="310.70" y1="707.00" x2="333.70" y2="707.00" stroke="#000" stroke-width="1.7" />
<line x1="322.20" y1="694.60" x2="322.20" y2="707.00" stroke="#000" stroke-width="1.7" />
<line x1="554.70" y1="599.80" x2="554.70" y2="795.20" stroke="#000" stroke-width="1.6" />
<line x1="554.70" y1="807.90" x2="554.70" y2="823.30" stroke="#000" stroke-width="1.6" />
<line x1="550.30" y1="791.70" x2="559.00" y2="800.00" stroke="#000" stroke-width="1.5" />
<line x1="550.30" y1="802.70" x2="559.00" y2="811.00" stroke="#000" stroke-width="1.5" />
<line x1="549.20" y1="823.30" x2="787.60" y2="823.30" stroke="#000" stroke-width="1.7" />
<line x1="549.20" y1="600.60" x2="554.70" y2="600.60" stroke="#000" stroke-width="1.6" />
<line x1="549.20" y1="665.40" x2="554.70" y2="665.40" stroke="#000" stroke-width="1.6" />
<line x1="549.20" y1="730.00" x2="554.70" y2="730.00" stroke="#000" stroke-width="1.6" />
<text x="547.20" y="606.30" font-size="15.8" font-weight="bold" text-anchor="end" >0.06</text>
<text x="547.20" y="671.10" font-size="15.8" font-weight="bold" text-anchor="end" >0.05</text>
<text x="547.20" y="735.70" font-size="15.8" font-weight="bold" text-anchor="end" >0.04</text>
<line x1="600.80" y1="823.30" x2="600.80" y2="827.90" stroke="#000" stroke-width="1.6" />
<line x1="670.50" y1="823.30" x2="670.50" y2="827.90" stroke="#000" stroke-width="1.6" />
<line x1="740.20" y1="823.30" x2="740.20" y2="827.90" stroke="#000" stroke-width="1.6" />
<text x="547.60" y="800.40" font-size="15.8" font-weight="bold" text-anchor="end" >0.03</text>
<text x="547.60" y="829.00" font-size="15.8" font-weight="bold" text-anchor="end" >0.00</text>
<circle cx="600.80" cy="637.30" r="3.5" fill="#000"/>
<circle cx="600.80" cy="674.60" r="3.5" fill="#000"/>
<circle cx="600.70" cy="701.70" r="3.5" fill="#000"/>
<circle cx="593.40" cy="716.90" r="3.5" fill="#000"/>
<circle cx="607.90" cy="716.90" r="3.5" fill="#000"/>
<circle cx="600.70" cy="748.80" r="3.5" fill="#000"/>
<circle cx="600.70" cy="761.60" r="3.5" fill="#000"/>
<circle cx="670.50" cy="676.60" r="3.35" fill="#fff" stroke="#000" stroke-width="1.6"/>
<circle cx="670.50" cy="705.80" r="3.35" fill="#fff" stroke="#000" stroke-width="1.6"/>
<circle cx="670.50" cy="721.40" r="3.35" fill="#fff" stroke="#000" stroke-width="1.6"/>
<circle cx="670.50" cy="732.90" r="3.35" fill="#fff" stroke="#000" stroke-width="1.6"/>
<circle cx="670.50" cy="751.60" r="3.35" fill="#fff" stroke="#000" stroke-width="1.6"/>
<circle cx="656.60" cy="755.50" r="3.35" fill="#fff" stroke="#000" stroke-width="1.6"/>
<circle cx="684.20" cy="755.50" r="3.35" fill="#fff" stroke="#000" stroke-width="1.6"/>
<circle cx="740.20" cy="615.30" r="3.5" fill="#a2a2a7"/>
<circle cx="740.20" cy="701.40" r="3.5" fill="#a2a2a7"/>
<circle cx="740.20" cy="712.00" r="3.5" fill="#a2a2a7"/>
<circle cx="740.20" cy="734.30" r="3.5" fill="#a2a2a7"/>
<circle cx="740.20" cy="746.80" r="3.5" fill="#a2a2a7"/>
<circle cx="740.20" cy="759.90" r="3.5" fill="#a2a2a7"/>
<line x1="578.00" y1="708.10" x2="623.60" y2="708.10" stroke="#000" stroke-width="1.7" />
<line x1="589.30" y1="692.30" x2="612.30" y2="692.30" stroke="#000" stroke-width="1.7" />
<line x1="589.30" y1="724.10" x2="612.30" y2="724.10" stroke="#000" stroke-width="1.7" />
<line x1="600.80" y1="692.30" x2="600.80" y2="724.10" stroke="#000" stroke-width="1.7" />
<line x1="647.70" y1="728.50" x2="693.30" y2="728.50" stroke="#000" stroke-width="1.7" />
<line x1="659.00" y1="717.00" x2="682.00" y2="717.00" stroke="#000" stroke-width="1.7" />
<line x1="659.00" y1="739.30" x2="682.00" y2="739.30" stroke="#000" stroke-width="1.7" />
<line x1="670.50" y1="717.00" x2="670.50" y2="739.30" stroke="#000" stroke-width="1.7" />
<line x1="717.40" y1="711.50" x2="763.00" y2="711.50" stroke="#000" stroke-width="1.7" />
<line x1="728.70" y1="690.30" x2="751.70" y2="690.30" stroke="#000" stroke-width="1.7" />
<line x1="728.70" y1="732.40" x2="751.70" y2="732.40" stroke="#000" stroke-width="1.7" />
<line x1="740.20" y1="690.30" x2="740.20" y2="732.40" stroke="#000" stroke-width="1.7" />
<line x1="136.70" y1="893.90" x2="136.70" y2="1089.60" stroke="#000" stroke-width="1.6" />
<line x1="136.70" y1="1102.30" x2="136.70" y2="1117.20" stroke="#000" stroke-width="1.6" />
<line x1="132.30" y1="1086.10" x2="141.00" y2="1094.40" stroke="#000" stroke-width="1.5" />
<line x1="132.30" y1="1097.10" x2="141.00" y2="1105.40" stroke="#000" stroke-width="1.5" />
<line x1="131.20" y1="1117.20" x2="369.60" y2="1117.20" stroke="#000" stroke-width="1.7" />
<line x1="131.20" y1="894.70" x2="136.70" y2="894.70" stroke="#000" stroke-width="1.6" />
<line x1="131.20" y1="943.30" x2="136.70" y2="943.30" stroke="#000" stroke-width="1.6" />
<line x1="131.20" y1="991.90" x2="136.70" y2="991.90" stroke="#000" stroke-width="1.6" />
<line x1="131.20" y1="1040.50" x2="136.70" y2="1040.50" stroke="#000" stroke-width="1.6" />
<text x="129.20" y="900.40" font-size="15.8" font-weight="bold" text-anchor="end" >0.008</text>
<text x="129.20" y="949.00" font-size="15.8" font-weight="bold" text-anchor="end" >0.007</text>
<text x="129.20" y="997.60" font-size="15.8" font-weight="bold" text-anchor="end" >0.006</text>
<text x="129.20" y="1046.20" font-size="15.8" font-weight="bold" text-anchor="end" >0.005</text>
<line x1="182.80" y1="1117.20" x2="182.80" y2="1121.80" stroke="#000" stroke-width="1.6" />
<line x1="252.50" y1="1117.20" x2="252.50" y2="1121.80" stroke="#000" stroke-width="1.6" />
<line x1="322.20" y1="1117.20" x2="322.20" y2="1121.80" stroke="#000" stroke-width="1.6" />
<text x="129.60" y="1094.80" font-size="15.8" font-weight="bold" text-anchor="end" >0.004</text>
<text x="129.60" y="1122.90" font-size="15.8" font-weight="bold" text-anchor="end" >0.000</text>
<circle cx="183.00" cy="919.70" r="3.5" fill="#000"/>
<circle cx="183.00" cy="943.30" r="3.5" fill="#000"/>
<circle cx="169.40" cy="968.60" r="3.5" fill="#000"/>
<circle cx="183.00" cy="968.60" r="3.5" fill="#000"/>
<circle cx="196.50" cy="968.60" r="3.5" fill="#000"/>
<circle cx="176.20" cy="1009.60" r="3.5" fill="#000"/>
<circle cx="189.60" cy="1007.80" r="3.5" fill="#000"/>
<circle cx="252.70" cy="934.40" r="3.35" fill="#fff" stroke="#000" stroke-width="1.6"/>
<circle cx="252.70" cy="956.50" r="3.35" fill="#fff" stroke="#000" stroke-width="1.6"/>
<circle cx="252.70" cy="971.10" r="3.35" fill="#fff" stroke="#000" stroke-width="1.6"/>
<circle cx="245.80" cy="986.30" r="3.35" fill="#fff" stroke="#000" stroke-width="1.6"/>
<circle cx="259.70" cy="984.30" r="3.35" fill="#fff" stroke="#000" stroke-width="1.6"/>
<circle cx="259.70" cy="1004.10" r="3.35" fill="#fff" stroke="#000" stroke-width="1.6"/>
<circle cx="245.80" cy="1009.60" r="3.35" fill="#fff" stroke="#000" stroke-width="1.6"/>
<circle cx="315.50" cy="955.60" r="3.5" fill="#a2a2a7"/>
<circle cx="329.20" cy="950.20" r="3.5" fill="#a2a2a7"/>
<circle cx="315.50" cy="965.30" r="3.5" fill="#a2a2a7"/>
<circle cx="329.20" cy="963.30" r="3.5" fill="#a2a2a7"/>
<circle cx="329.20" cy="981.50" r="3.5" fill="#a2a2a7"/>
<circle cx="315.50" cy="985.60" r="3.5" fill="#a2a2a7"/>
<line x1="160.20" y1="969.40" x2="205.80" y2="969.40" stroke="#000" stroke-width="1.7" />
<line x1="171.50" y1="957.00" x2="194.50" y2="957.00" stroke="#000" stroke-width="1.7" />
<line x1="171.50" y1="981.80" x2="194.50" y2="981.80" stroke="#000" stroke-width="1.7" />
<line x1="183.00" y1="957.00" x2="183.00" y2="981.80" stroke="#000" stroke-width="1.7" />
<line x1="229.90" y1="978.20" x2="275.50" y2="978.20" stroke="#000" stroke-width="1.7" />
<line x1="241.20" y1="968.40" x2="264.20" y2="968.40" stroke="#000" stroke-width="1.7" />
<line x1="241.20" y1="988.60" x2="264.20" y2="988.60" stroke="#000" stroke-width="1.7" />
<line x1="252.70" y1="968.40" x2="252.70" y2="988.60" stroke="#000" stroke-width="1.7" />
<line x1="299.60" y1="966.80" x2="345.20" y2="966.80" stroke="#000" stroke-width="1.7" />
<line x1="310.90" y1="960.90" x2="333.90" y2="960.90" stroke="#000" stroke-width="1.7" />
<line x1="310.90" y1="972.80" x2="333.90" y2="972.80" stroke="#000" stroke-width="1.7" />
<line x1="322.40" y1="960.90" x2="322.40" y2="972.80" stroke="#000" stroke-width="1.7" />
<line x1="554.70" y1="893.70" x2="554.70" y2="1088.80" stroke="#000" stroke-width="1.6" />
<line x1="554.70" y1="1101.50" x2="554.70" y2="1117.50" stroke="#000" stroke-width="1.6" />
<line x1="550.30" y1="1085.30" x2="559.00" y2="1093.60" stroke="#000" stroke-width="1.5" />
<line x1="550.30" y1="1096.30" x2="559.00" y2="1104.60" stroke="#000" stroke-width="1.5" />
<line x1="549.20" y1="1117.50" x2="787.60" y2="1117.50" stroke="#000" stroke-width="1.7" />
<line x1="549.20" y1="894.50" x2="554.70" y2="894.50" stroke="#000" stroke-width="1.6" />
<line x1="549.20" y1="959.10" x2="554.70" y2="959.10" stroke="#000" stroke-width="1.6" />
<line x1="549.20" y1="1023.70" x2="554.70" y2="1023.70" stroke="#000" stroke-width="1.6" />
<text x="547.20" y="900.20" font-size="15.8" font-weight="bold" text-anchor="end" >0.07</text>
<text x="547.20" y="964.80" font-size="15.8" font-weight="bold" text-anchor="end" >0.06</text>
<text x="547.20" y="1029.40" font-size="15.8" font-weight="bold" text-anchor="end" >0.05</text>
<line x1="600.80" y1="1117.50" x2="600.80" y2="1122.10" stroke="#000" stroke-width="1.6" />
<line x1="670.50" y1="1117.50" x2="670.50" y2="1122.10" stroke="#000" stroke-width="1.6" />
<line x1="740.20" y1="1117.50" x2="740.20" y2="1122.10" stroke="#000" stroke-width="1.6" />
<text x="547.60" y="1094.00" font-size="15.8" font-weight="bold" text-anchor="end" >0.04</text>
<text x="547.60" y="1123.20" font-size="15.8" font-weight="bold" text-anchor="end" >0.00</text>
<line x1="600.70" y1="938.80" x2="740.00" y2="938.80" stroke="#000" stroke-width="1.4" />
<line x1="600.70" y1="934.20" x2="600.70" y2="943.40" stroke="#000" stroke-width="1.7" />
<line x1="740.00" y1="934.20" x2="740.00" y2="943.40" stroke="#000" stroke-width="1.7" />
<text x="669.85" y="929.84" font-size="22" font-weight="normal" text-anchor="middle" letter-spacing="0.7">*</text>
<circle cx="594.00" cy="976.70" r="3.5" fill="#000"/>
<circle cx="607.70" cy="974.90" r="3.5" fill="#000"/>
<circle cx="594.00" cy="996.50" r="3.5" fill="#000"/>
<circle cx="607.70" cy="994.90" r="3.5" fill="#000"/>
<circle cx="600.90" cy="1018.50" r="3.5" fill="#000"/>
<circle cx="600.70" cy="1034.40" r="3.5" fill="#000"/>
<circle cx="670.50" cy="951.40" r="3.35" fill="#fff" stroke="#000" stroke-width="1.6"/>
<circle cx="670.50" cy="967.30" r="3.35" fill="#fff" stroke="#000" stroke-width="1.6"/>
<circle cx="656.80" cy="983.80" r="3.35" fill="#fff" stroke="#000" stroke-width="1.6"/>
<circle cx="683.90" cy="986.30" r="3.35" fill="#fff" stroke="#000" stroke-width="1.6"/>
<circle cx="670.50" cy="988.10" r="3.35" fill="#fff" stroke="#000" stroke-width="1.6"/>
<circle cx="670.50" cy="996.20" r="3.35" fill="#fff" stroke="#000" stroke-width="1.6"/>
<circle cx="726.50" cy="965.30" r="3.5" fill="#a2a2a7"/>
<circle cx="740.10" cy="967.80" r="3.5" fill="#a2a2a7"/>
<circle cx="754.00" cy="969.10" r="3.5" fill="#a2a2a7"/>
<circle cx="740.10" cy="975.40" r="3.5" fill="#a2a2a7"/>
<circle cx="740.10" cy="983.00" r="3.5" fill="#a2a2a7"/>
<circle cx="740.10" cy="991.90" r="3.5" fill="#a2a2a7"/>
<line x1="578.10" y1="999.50" x2="623.70" y2="999.50" stroke="#000" stroke-width="1.7" />
<line x1="589.40" y1="989.90" x2="612.40" y2="989.90" stroke="#000" stroke-width="1.7" />
<line x1="589.40" y1="1008.90" x2="612.40" y2="1008.90" stroke="#000" stroke-width="1.7" />
<line x1="600.90" y1="989.90" x2="600.90" y2="1008.90" stroke="#000" stroke-width="1.7" />
<line x1="647.70" y1="978.70" x2="693.30" y2="978.70" stroke="#000" stroke-width="1.7" />
<line x1="659.00" y1="972.20" x2="682.00" y2="972.20" stroke="#000" stroke-width="1.7" />
<line x1="659.00" y1="985.80" x2="682.00" y2="985.80" stroke="#000" stroke-width="1.7" />
<line x1="670.50" y1="972.20" x2="670.50" y2="985.80" stroke="#000" stroke-width="1.7" />
<line x1="717.30" y1="975.70" x2="762.90" y2="975.70" stroke="#000" stroke-width="1.7" />
<line x1="728.60" y1="971.60" x2="751.60" y2="971.60" stroke="#000" stroke-width="1.7" />
<line x1="728.60" y1="979.70" x2="751.60" y2="979.70" stroke="#000" stroke-width="1.7" />
<line x1="740.10" y1="971.60" x2="740.10" y2="979.70" stroke="#000" stroke-width="1.7" />
<text transform="translate(71.30,200.67) rotate(-90)" x="0" y="0" font-size="19.83" font-weight="bold" textLength="157.74" lengthAdjust="spacingAndGlyphs">Fetal Weight (g)</text>
<text transform="translate(489.70,199.87) rotate(-90)" x="0" y="0" font-size="19.83" font-weight="bold" textLength="157.44" lengthAdjust="spacingAndGlyphs">Fetal Weight (g)</text>
<text transform="translate(62.50,514.86) rotate(-90)" x="0" y="0" font-size="19.83" font-weight="bold" textLength="199.57" lengthAdjust="spacingAndGlyphs">Placental Weight (g)</text>
<text transform="translate(481.20,514.86) rotate(-90)" x="0" y="0" font-size="20.25" font-weight="bold" textLength="199.57" lengthAdjust="spacingAndGlyphs">Placental Weight (g)</text>
<text transform="translate(50.70,812.47) rotate(-90)" x="0" y="0" font-size="20.53" font-weight="bold" textLength="206.83" lengthAdjust="spacingAndGlyphs">Fetal:Placental Ratio</text>
<text transform="translate(479.50,806.52) rotate(-90)" x="0" y="0" font-size="20.25" font-weight="bold" textLength="193.40" lengthAdjust="spacingAndGlyphs">Yolk Sac Weight (g)</text>
<text transform="translate(53.00,1126.27) rotate(-90)" x="0" y="0" font-size="21.51" font-weight="bold" textLength="245.10" lengthAdjust="spacingAndGlyphs">Heart:Fetal Weight Ratio</text>
<text transform="translate(480.60,1124.27) rotate(-90)" x="0" y="0" font-size="21.09" font-weight="bold" textLength="240.36" lengthAdjust="spacingAndGlyphs">Liver:Fetal Weight Ratio</text>
<text x="0.52" y="17.33" font-size="21.28" font-weight="bold" textLength="6.54" lengthAdjust="spacingAndGlyphs">(</text>
<text x="7.50" y="18.00" font-size="21.74" font-weight="bold" textLength="14.34" lengthAdjust="spacingAndGlyphs">A</text>
<text x="22.80" y="17.33" font-size="21.28" font-weight="bold" textLength="5.96" lengthAdjust="spacingAndGlyphs">)</text>
<text x="418.39" y="17.29" font-size="21.50" font-weight="bold" textLength="6.07" lengthAdjust="spacingAndGlyphs">(</text>
<text x="426.05" y="17.80" font-size="21.01" font-weight="bold" textLength="12.79" lengthAdjust="spacingAndGlyphs">B</text>
<text x="440.10" y="17.29" font-size="21.50" font-weight="bold" textLength="5.84" lengthAdjust="spacingAndGlyphs">)</text>
<text x="1.90" y="311.33" font-size="21.28" font-weight="bold" textLength="5.35" lengthAdjust="spacingAndGlyphs">(</text>
<text x="8.80" y="311.79" font-size="20.85" font-weight="bold" textLength="12.57" lengthAdjust="spacingAndGlyphs">C</text>
<text x="22.00" y="311.33" font-size="21.28" font-weight="bold" textLength="5.84" lengthAdjust="spacingAndGlyphs">)</text>
<text x="418.16" y="311.33" font-size="21.28" font-weight="bold" textLength="5.59" lengthAdjust="spacingAndGlyphs">(</text>
<text x="424.94" y="312.00" font-size="21.45" font-weight="bold" textLength="15.15" lengthAdjust="spacingAndGlyphs">D</text>
<text x="440.40" y="311.33" font-size="21.28" font-weight="bold" textLength="5.73" lengthAdjust="spacingAndGlyphs">)</text>
<text x="2.18" y="595.41" font-size="21.39" font-weight="bold" textLength="5.47" lengthAdjust="spacingAndGlyphs">(</text>
<text x="10.08" y="595.80" font-size="20.00" font-weight="bold" textLength="9.44" lengthAdjust="spacingAndGlyphs">E</text>
<text x="21.60" y="595.41" font-size="21.39" font-weight="bold" textLength="5.84" lengthAdjust="spacingAndGlyphs">)</text>
<text x="420.11" y="595.41" font-size="21.39" font-weight="bold" textLength="5.95" lengthAdjust="spacingAndGlyphs">(</text>
<text x="427.98" y="595.80" font-size="20.00" font-weight="bold" textLength="9.58" lengthAdjust="spacingAndGlyphs">F</text>
<text x="438.90" y="595.41" font-size="21.39" font-weight="bold" textLength="5.73" lengthAdjust="spacingAndGlyphs">)</text>
<text x="0.68" y="869.31" font-size="21.39" font-weight="bold" textLength="5.47" lengthAdjust="spacingAndGlyphs">(</text>
<text x="7.24" y="869.40" font-size="20.28" font-weight="bold" textLength="14.86" lengthAdjust="spacingAndGlyphs">G</text>
<text x="22.80" y="869.31" font-size="21.39" font-weight="bold" textLength="6.19" lengthAdjust="spacingAndGlyphs">)</text>
<text x="418.16" y="869.29" font-size="21.50" font-weight="bold" textLength="5.59" lengthAdjust="spacingAndGlyphs">(</text>
<text x="425.40" y="869.60" font-size="20.87" font-weight="bold" textLength="14.44" lengthAdjust="spacingAndGlyphs">H</text>
<text x="440.40" y="869.29" font-size="21.50" font-weight="bold" textLength="5.73" lengthAdjust="spacingAndGlyphs">)</text>
<text x="162.58" y="258.50" font-size="18.84" font-weight="bold" textLength="39.49" lengthAdjust="spacingAndGlyphs">NPD</text>
<text x="233.50" y="258.50" font-size="18.84" font-weight="bold" textLength="36.94" lengthAdjust="spacingAndGlyphs">LPD</text>
<text x="284.65" y="258.50" font-size="18.84" font-weight="bold" textLength="74.78" lengthAdjust="spacingAndGlyphs">MD-LPD</text>
<text x="580.58" y="258.20" font-size="18.84" font-weight="bold" textLength="39.49" lengthAdjust="spacingAndGlyphs">NPD</text>
<text x="651.50" y="258.20" font-size="18.84" font-weight="bold" textLength="36.94" lengthAdjust="spacingAndGlyphs">LPD</text>
<text x="702.65" y="258.20" font-size="18.84" font-weight="bold" textLength="74.78" lengthAdjust="spacingAndGlyphs">MD-LPD</text>
<text x="162.58" y="552.40" font-size="18.84" font-weight="bold" textLength="39.49" lengthAdjust="spacingAndGlyphs">NPD</text>
<text x="233.50" y="552.40" font-size="18.84" font-weight="bold" textLength="36.94" lengthAdjust="spacingAndGlyphs">LPD</text>
<text x="284.65" y="552.40" font-size="18.84" font-weight="bold" textLength="74.78" lengthAdjust="spacingAndGlyphs">MD-LPD</text>
<text x="580.58" y="552.40" font-size="18.84" font-weight="bold" textLength="39.49" lengthAdjust="spacingAndGlyphs">NPD</text>
<text x="651.50" y="552.40" font-size="18.84" font-weight="bold" textLength="36.94" lengthAdjust="spacingAndGlyphs">LPD</text>
<text x="702.65" y="552.40" font-size="18.84" font-weight="bold" textLength="74.78" lengthAdjust="spacingAndGlyphs">MD-LPD</text>
<text x="162.58" y="846.20" font-size="18.84" font-weight="bold" textLength="39.49" lengthAdjust="spacingAndGlyphs">NPD</text>
<text x="233.50" y="846.20" font-size="18.84" font-weight="bold" textLength="36.94" lengthAdjust="spacingAndGlyphs">LPD</text>
<text x="284.65" y="846.20" font-size="18.84" font-weight="bold" textLength="74.78" lengthAdjust="spacingAndGlyphs">MD-LPD</text>
<text x="580.58" y="847.00" font-size="18.84" font-weight="bold" textLength="39.49" lengthAdjust="spacingAndGlyphs">NPD</text>
<text x="651.50" y="847.00" font-size="18.84" font-weight="bold" textLength="36.94" lengthAdjust="spacingAndGlyphs">LPD</text>
<text x="702.65" y="847.00" font-size="18.84" font-weight="bold" textLength="74.78" lengthAdjust="spacingAndGlyphs">MD-LPD</text>
<text x="162.58" y="1140.90" font-size="18.84" font-weight="bold" textLength="39.49" lengthAdjust="spacingAndGlyphs">NPD</text>
<text x="233.50" y="1140.90" font-size="18.84" font-weight="bold" textLength="36.94" lengthAdjust="spacingAndGlyphs">LPD</text>
<text x="284.65" y="1140.90" font-size="18.84" font-weight="bold" textLength="74.78" lengthAdjust="spacingAndGlyphs">MD-LPD</text>
<text x="580.58" y="1141.20" font-size="18.84" font-weight="bold" textLength="39.49" lengthAdjust="spacingAndGlyphs">NPD</text>
<text x="651.50" y="1141.20" font-size="18.84" font-weight="bold" textLength="36.94" lengthAdjust="spacingAndGlyphs">LPD</text>
<text x="702.65" y="1141.20" font-size="18.84" font-weight="bold" textLength="74.78" lengthAdjust="spacingAndGlyphs">MD-LPD</text>
</svg>
</body></html>
